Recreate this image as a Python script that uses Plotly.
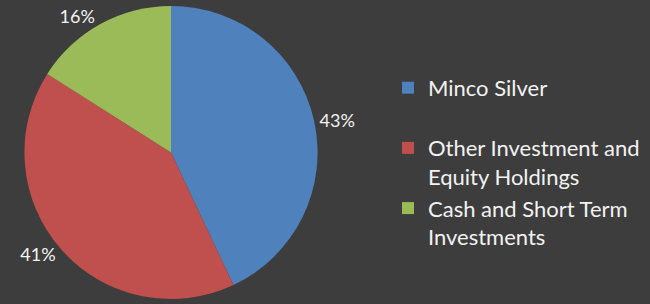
import plotly.graph_objects as go

labels = ["Minco Silver<br>&nbsp;", "Other Investment and<br>Equity Holdings", "Cash and Short Term<br>Investments"]
values = [43, 41, 16]
colors = ["#4f81bd", "#c0504d", "#9bbb59"]

BG = "#3d3d3d"
FONT = "Lato, Open Sans, sans-serif"

fig = go.Figure(go.Pie(
    labels=labels,
    values=values,
    sort=False,
    direction="clockwise",
    rotation=0,
    marker=dict(colors=colors, line=dict(width=0)),
    textposition="outside",
    texttemplate="%{percent:.0%}",
    textfont=dict(family=FONT, size=18, color="#f2f2f2"),
    domain=dict(x=[22/650, 320/650], y=[0, 298/304]),
    hoverinfo="skip",
))

fig.update_layout(
    width=650, height=304,
    margin=dict(l=0, r=0, t=0, b=0),
    paper_bgcolor=BG, plot_bgcolor=BG,
    showlegend=True,
    legend=dict(
        x=388/650, xanchor="left",
        y=1 - 68/304, yanchor="top",
        valign="top",
        font=dict(family=FONT, size=22, color="#f2f2f2"),
        bgcolor="rgba(0,0,0,0)",
    ),
)

fig.write_html(
    "out.html",
    config={"displayModeBar": False},
    post_script="document.body.style.margin='0';document.body.style.background='%s';" % BG,
)
